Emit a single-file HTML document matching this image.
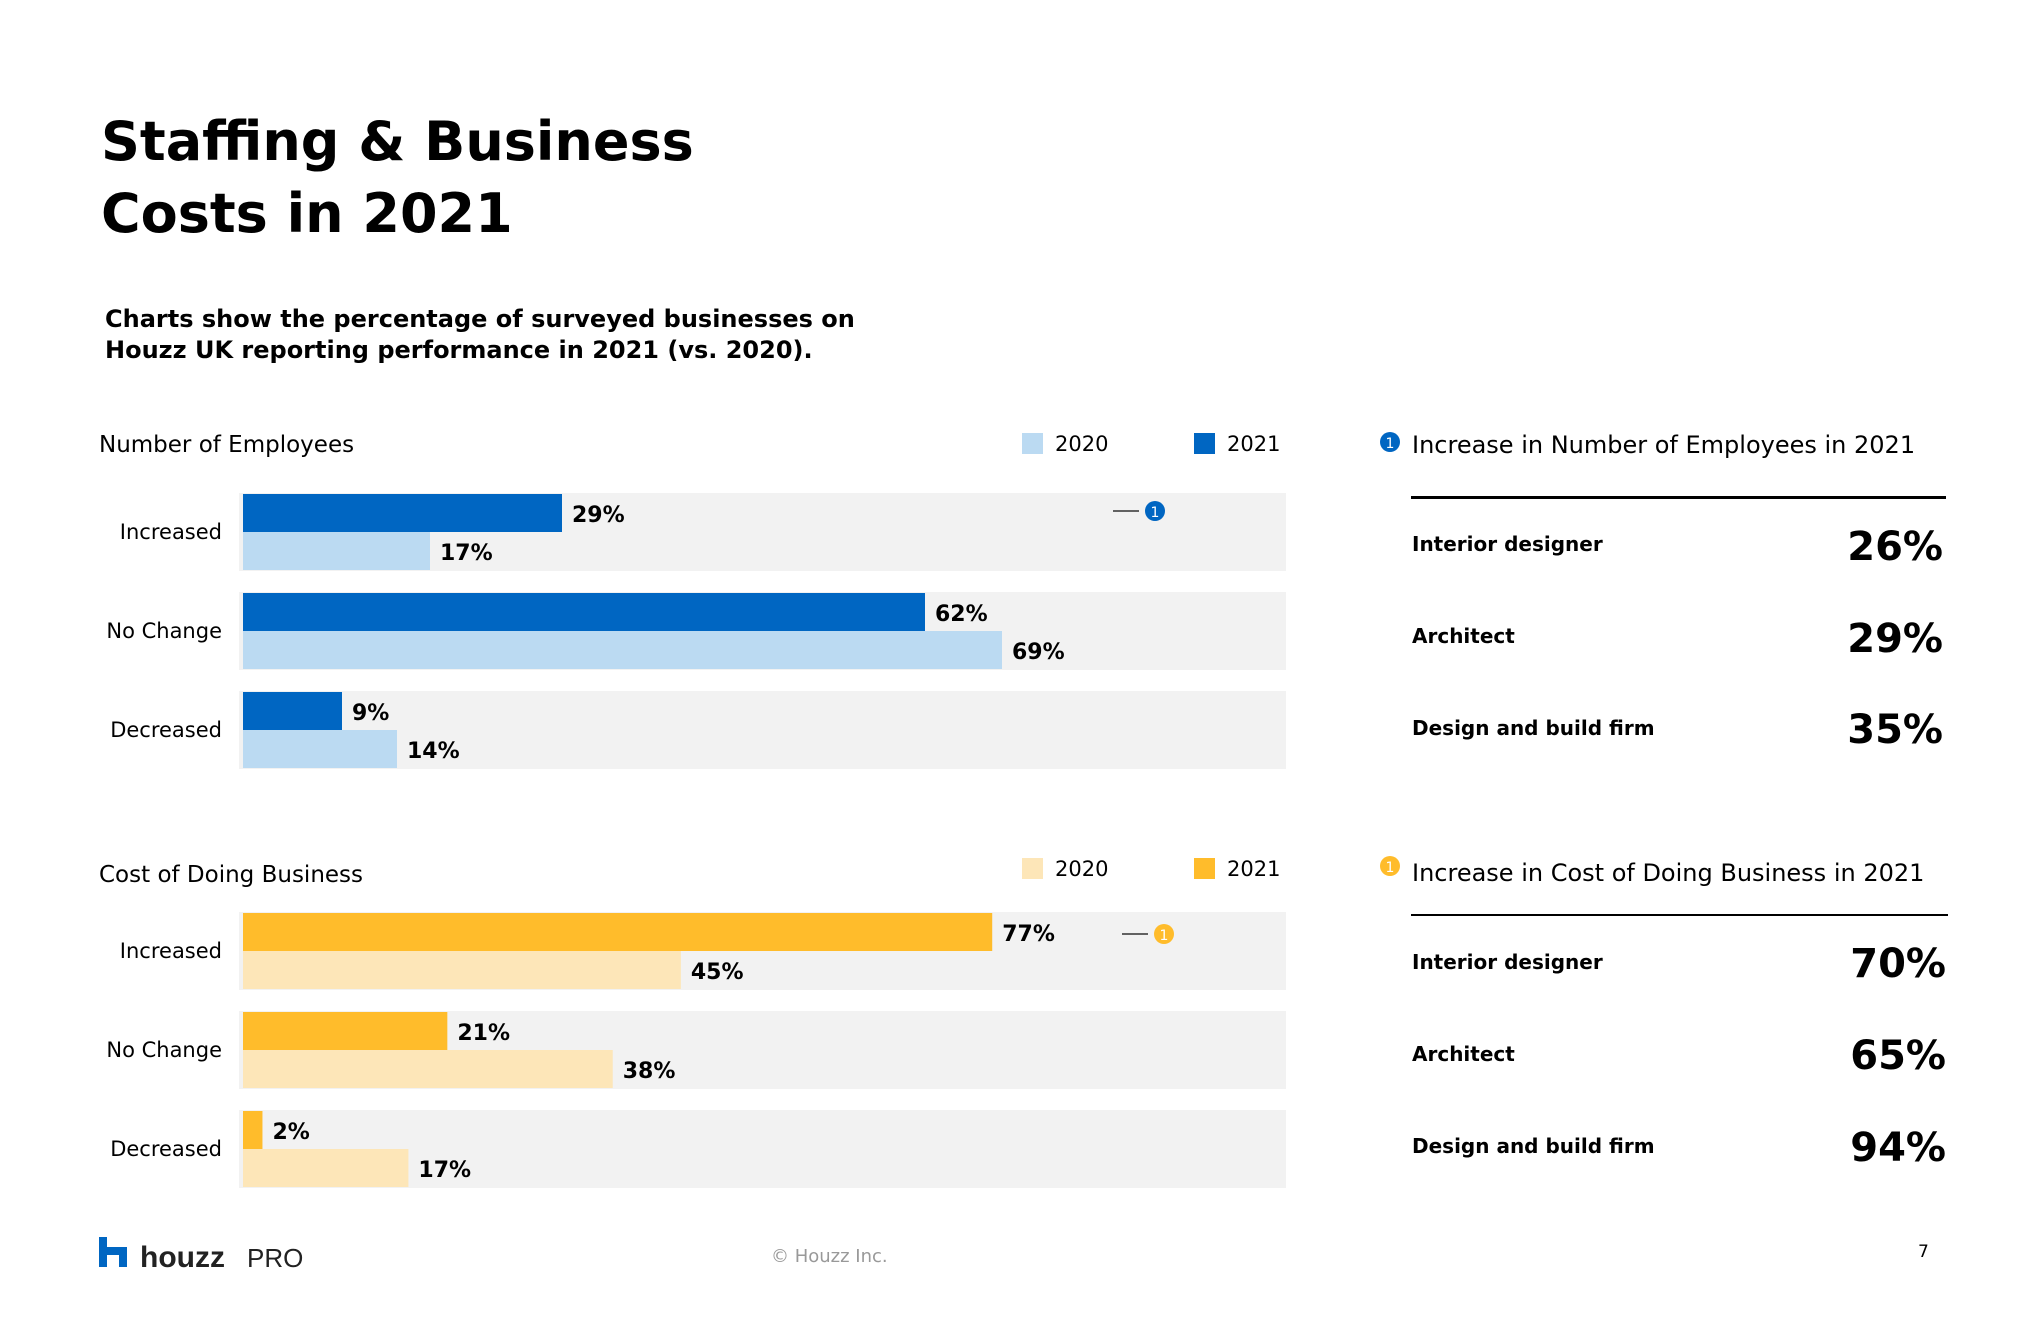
<!DOCTYPE html>
<html><head><meta charset="utf-8">
<style>
html,body{margin:0;padding:0;background:#fff;}
svg{display:block;}
text{font-family:"DejaVu Sans","Liberation Sans",sans-serif;}
</style></head>
<body>
<svg id="page" width="2040" height="1320" viewBox="0 0 2040 1320" xmlns="http://www.w3.org/2000/svg">
  <text x="101" y="160" font-size="54" font-weight="bold" fill="#000">Staffing &amp; Business</text>
  <text x="101" y="232" font-size="54" font-weight="bold" fill="#000">Costs in 2021</text>
  <text x="105" y="327" font-size="24" font-weight="bold" fill="#000">Charts show the percentage of surveyed businesses on</text>
  <text x="105" y="358" font-size="24" font-weight="bold" fill="#000">Houzz UK reporting performance in 2021 (vs. 2020).</text>

  <g id="chart1"></g>
  <g id="chart2"></g>

  <g>
    <circle cx="1390" cy="442" r="10" fill="#0066C2"/>
    <text x="1390" y="448" font-size="14" fill="#fff" text-anchor="middle">1</text>
    <text x="1412" y="453" font-size="24" fill="#000">Increase in Number of Employees in 2021</text>
    <rect x="1411" y="496" width="535" height="3" fill="#000"/>
    <text x="1412" y="551" font-size="20" font-weight="bold">Interior designer</text>
    <text x="1943" y="560" font-size="40" font-weight="bold" text-anchor="end">26%</text>
    <text x="1412" y="643" font-size="20" font-weight="bold">Architect</text>
    <text x="1943" y="652" font-size="40" font-weight="bold" text-anchor="end">29%</text>
    <text x="1412" y="735" font-size="20" font-weight="bold">Design and build firm</text>
    <text x="1943" y="743" font-size="40" font-weight="bold" text-anchor="end">35%</text>
  </g>
  <g>
    <circle cx="1390" cy="866" r="10" fill="#FFBC2B"/>
    <text x="1390" y="872" font-size="14" fill="#fff" text-anchor="middle">1</text>
    <text x="1412" y="881" font-size="24" fill="#000">Increase in Cost of Doing Business in 2021</text>
    <rect x="1411" y="914" width="537" height="2" fill="#000"/>
    <text x="1412" y="969" font-size="20" font-weight="bold">Interior designer</text>
    <text x="1946" y="977" font-size="40" font-weight="bold" text-anchor="end">70%</text>
    <text x="1412" y="1061" font-size="20" font-weight="bold">Architect</text>
    <text x="1946" y="1069" font-size="40" font-weight="bold" text-anchor="end">65%</text>
    <text x="1412" y="1153" font-size="20" font-weight="bold">Design and build firm</text>
    <text x="1946" y="1161" font-size="40" font-weight="bold" text-anchor="end">94%</text>
  </g>

  <g>
    <path d="M99 1237 h8 v10 l20 0 v20 h-8 v-12 h-12 v12 h-8 z" fill="#0066C2"/>
    <text x="140" y="1267" font-size="30" font-weight="bold" fill="#222" style="font-family:'Liberation Sans',sans-serif">houzz</text>
    <text x="247" y="1267" font-size="26" fill="#222" style="font-family:'Liberation Sans',sans-serif">PRO</text>
  </g>
  <text x="771" y="1262" font-size="18" fill="#999">© Houzz Inc.</text>
  <text x="1918" y="1257" font-size="17" fill="#000">7</text>
</svg>
<script>
const categories = ["Increased", "No Change", "Decreased"];
const empValues2021 = [29, 62, 9];
const empValues2020 = [17, 69, 14];
const costValues2021 = [77, 21, 2];
const costValues2020 = [45, 38, 17];

const NS = "http://www.w3.org/2000/svg";
function mk(tag, attrs, parent){
  const e = document.createElementNS(NS, tag);
  for (const k in attrs) e.setAttribute(k, attrs[k]);
  parent.appendChild(e);
  return e;
}
function drawChart(g, cfg){
  const x = v => cfg.x0 + v * cfg.scale;
  let t = mk('text', {x:99, y:cfg.titleY, 'font-size':23, fill:'#000'}, g);
  t.textContent = cfg.title;
  
  
  const leg = [[cfg.light,'2020',1022],[cfg.dark,'2021',1194]];
  leg.forEach(l=>{
    const r = mk('rect',{x:l[2],y:cfg.legY,width:21,height:21,fill:l[0]},g);
    
    
    const lt = mk('text',{x:l[2]+33,y:cfg.legY+18,'font-size':21,fill:'#000'},g);
    lt.textContent = l[1];
    
    
  });
  categories.forEach((c,i)=>{
    const top = cfg.rowTops[i];
    const bg = mk('rect',{x:239,y:top,width:1047,height:78,fill:'#F2F2F2'},g);
    
    
    const lab = mk('text',{x:222,y:top+46,'font-size':21,fill:'#000','text-anchor':'end'},g);
    lab.textContent = c;
    
    
    const v1 = cfg.v2021[i], v0 = cfg.v2020[i];
    const b1 = mk('rect',{x:cfg.x0,y:top+1,width:x(v1)-cfg.x0,height:38,fill:cfg.dark},g);
    
    
    const b0 = mk('rect',{x:cfg.x0,y:top+39,width:x(v0)-cfg.x0,height:38,fill:cfg.light},g);
    
    
    const l1 = mk('text',{x:x(v1)+10,y:top+29,'font-size':22,'font-weight':'bold',fill:'#000'},g);
    l1.textContent = v1 + '%';
    
    
    const l0 = mk('text',{x:x(v0)+10,y:top+67,'font-size':22,'font-weight':'bold',fill:'#000'},g);
    l0.textContent = v0 + '%';
    
    
  });
  const m = cfg.marker;
  mk('line',{x1:m[0],x2:m[0]+26,y1:m[1],y2:m[1],stroke:'#333','stroke-width':1.5},g);
  const mc = mk('circle',{cx:m[0]+42,cy:m[1],r:10,fill:cfg.dark},g);
  
  
  const mt = mk('text',{x:m[0]+42,y:m[1]+6,'font-size':14,fill:'#fff','text-anchor':'middle'},g);
  mt.textContent = '1';
}
drawChart(document.getElementById('chart1'), {
  title:'Number of Employees', titleY:452, legY:433,
  x0:243, scale:11.0, rowTops:[493,592,691],
  v2021:empValues2021, v2020:empValues2020,
  dark:'#0066C2', light:'#BBDAF2', marker:[1113,511]
});
drawChart(document.getElementById('chart2'), {
  title:'Cost of Doing Business', titleY:882, legY:858,
  x0:243, scale:9.73, rowTops:[912,1011,1110],
  v2021:costValues2021, v2020:costValues2020,
  dark:'#FFBC2B', light:'#FDE6B8', marker:[1122,934]
});
</script>
</body></html>
